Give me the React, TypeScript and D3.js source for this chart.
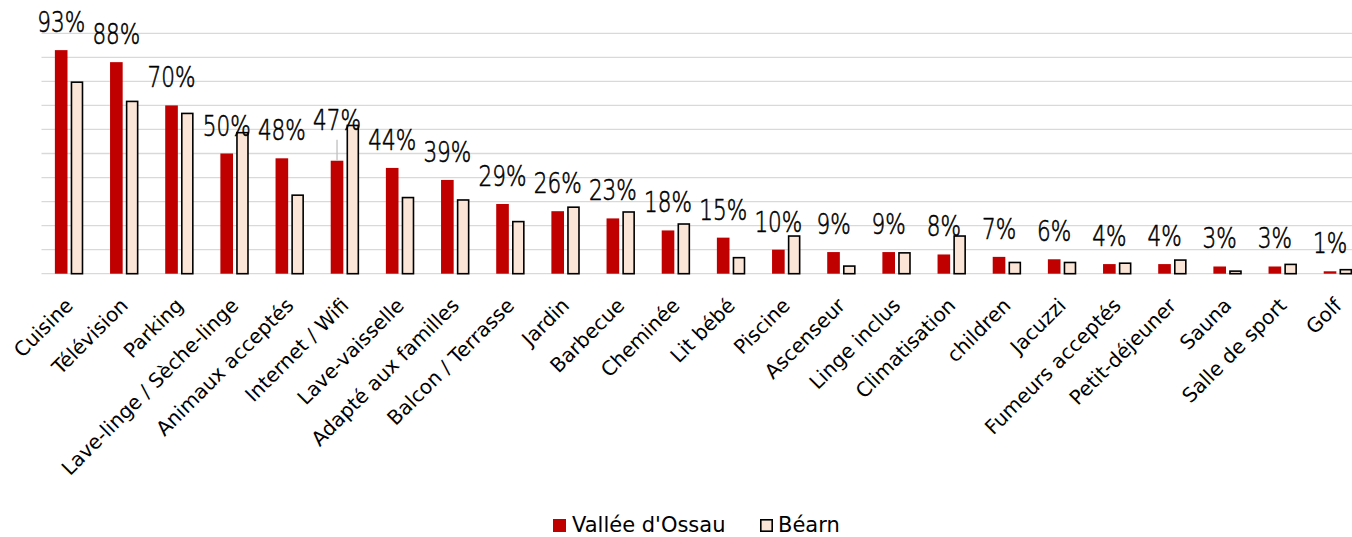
import React from "react";
import * as d3 from "d3";

const categories = [
  "Cuisine", "Télévision", "Parking", "Lave-linge / Sèche-linge", "Animaux acceptés",
  "Internet / Wifi", "Lave-vaisselle", "Adapté aux familles", "Balcon / Terrasse", "Jardin",
  "Barbecue", "Cheminée", "Lit bébé", "Piscine", "Ascenseur", "Linge inclus",
  "Climatisation", "children", "Jacuzzi", "Fumeurs acceptés", "Petit-déjeuner",
  "Sauna", "Salle de sport", "Golf",
];
const ossau = [93, 88, 70, 50, 48, 47, 44, 39, 29, 26, 23, 18, 15, 10, 9, 9, 8, 7, 6, 4, 4, 3, 3, 1];
const bearn = [80, 72, 67, 59, 33, 62, 32, 31, 22, 28, 26, 21, 7, 16, 3.5, 9, 16, 5, 5, 4.7, 6, 1.4, 4.2, 2];
const seriesNames = ["Vallée d'Ossau", "Béarn"];
const yTicks = [0, 10, 20, 30, 40, 50, 60, 70, 80, 90, 100];

const W = 1352;
const H = 537;
const RED = "#c00000";
const BEIGE = "#fbe5d6";
const GRID = "#d9d9d9";
const FONT = "'DejaVu Sans', sans-serif";
// label that was moved upward with a leader line (Internet / Wifi)
const movedLabelIndex = 5;
const movedLabelLift = 13;

export default function App() {
  const x = d3.scaleBand<string>().domain(categories).range([41.5, 1365.5]).paddingInner(0.485).paddingOuter(0.2425);
  const xs = d3.scaleBand<string>().domain(seriesNames).range([0, x.bandwidth()]).paddingInner(0.2);
  const y = d3.scaleLinear().domain([0, 100]).range([273.7, 33.3]);
  const sw = 1.6;

  return (
    <svg width={W} height={H} style={{ position: "absolute", left: 0, top: 0, background: "#fff" }}>
      <rect x={0} y={0} width={W} height={H} fill="#fff" />
      {yTicks.map((t) => (
        <line key={t} x1={41.5} x2={W} y1={y(t)} y2={y(t)} stroke={GRID} strokeWidth={1.3} />
      ))}
      {categories.map((c, i) => {
        const x0 = x(c)!;
        const rx = x0 + xs(seriesNames[0])!;
        const bx = x0 + xs(seriesNames[1])!;
        const bw = xs.bandwidth();
        const cx = rx + bw / 2;
        const moved = i === movedLabelIndex;
        const ly = y(ossau[i]) - 18 - (moved ? movedLabelLift : 0);
        return (
          <g key={c}>
            <rect x={rx} y={y(ossau[i])} width={bw} height={y(0) - y(ossau[i])} fill={RED} />
            <rect
              x={bx + sw / 2}
              y={y(bearn[i]) + sw / 2}
              width={bw - sw}
              height={Math.max(0, y(0) - y(bearn[i]) - sw / 2)}
              fill={BEIGE}
              stroke="#000"
              strokeWidth={sw}
            />
            {moved && (
              <line x1={cx} x2={cx} y1={ly + 10} y2={y(ossau[i])} stroke="#bfbfbf" strokeWidth={1.3} />
            )}
            <text
              transform={`translate(${cx},${ly}) scale(0.77,1)`}
              textAnchor="middle"
              fontFamily={FONT}
              fontSize={28}
              fontWeight={300}
              fill="#000"
              stroke="#000"
              strokeWidth={0.6}
            >
              {ossau[i]}%
            </text>
            <text
              transform={`translate(${x0 + x.bandwidth() / 2 + 5},${y(0) + 33}) rotate(-45)`}
              textAnchor="end"
              fontFamily={FONT}
              fontSize={20}
              fill="#000"
            >
              {c}
            </text>
          </g>
        );
      })}
      <g>
        <rect x={553} y={519} width={13} height={13} fill={RED} />
        <text x={572} y={532} fontFamily={FONT} fontSize={21} fill="#000">{seriesNames[0]}</text>
        <rect x={760.8} y={519.8} width={11.4} height={11.4} fill={BEIGE} stroke="#000" strokeWidth={1.6} />
        <text x={778} y={532} fontFamily={FONT} fontSize={21} fill="#000">{seriesNames[1]}</text>
      </g>
    </svg>
  );
}
